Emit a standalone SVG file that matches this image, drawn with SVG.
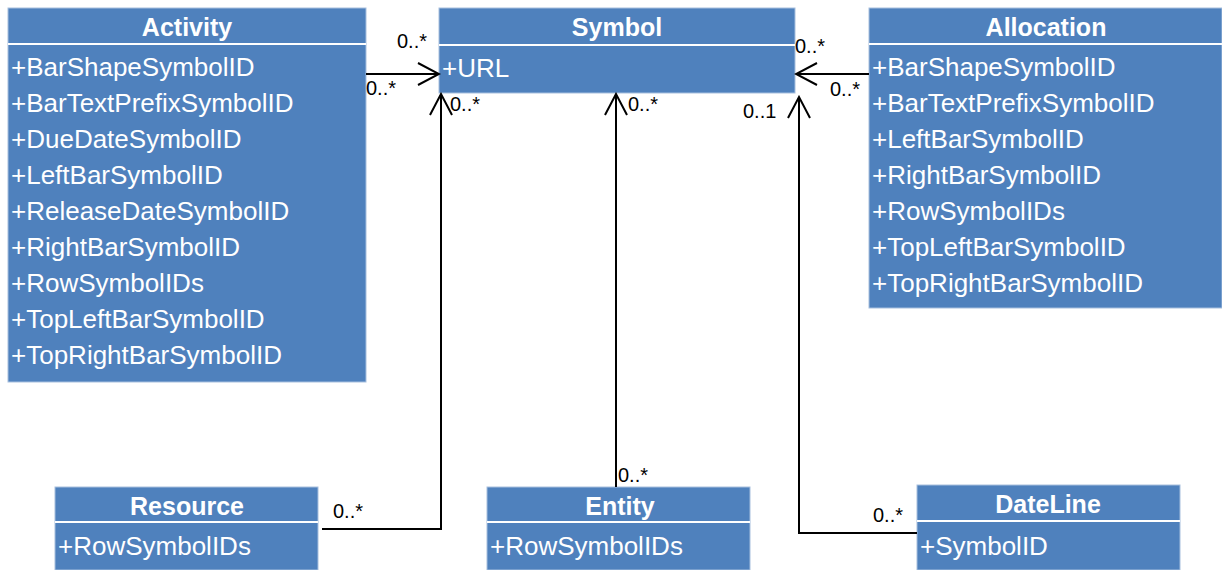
<svg xmlns="http://www.w3.org/2000/svg" width="1222" height="570" viewBox="0 0 1222 570">
<style>
.box{fill:#4F81BD;stroke:#A7BFDE;stroke-width:1}
.div{stroke:#FFFFFF;stroke-width:2}
.hd{font-family:"Liberation Sans",Arial,sans-serif;font-size:25px;font-weight:bold;fill:#FFFFFF;text-anchor:middle}
.at{font-family:"Liberation Sans",Arial,sans-serif;font-size:26px;fill:#FFFFFF}
.lb{font-family:"Liberation Sans",Arial,sans-serif;font-size:20px;fill:#000000}
.cn{fill:none;stroke:#000000;stroke-width:2}
</style>
<defs>
<marker id="open" viewBox="0 0 24 24" refX="22" refY="12" markerWidth="24" markerHeight="24" markerUnits="userSpaceOnUse" orient="auto">
<polyline points="1,1 22,12 1,23" fill="none" stroke="#000000" stroke-width="2"/>
</marker>
</defs>
<rect width="1222" height="570" fill="#FFFFFF"/>
<g id="Activity">
<rect class="box" x="8" y="8" width="358" height="374"/>
<line class="div" x1="8" y1="44" x2="366" y2="44"/>
<text class="hd" x="187" y="36">Activity</text>
<text class="at" x="11" y="76">+BarShapeSymbolID</text>
<text class="at" x="11" y="112">+BarTextPrefixSymbolID</text>
<text class="at" x="11" y="148">+DueDateSymbolID</text>
<text class="at" x="11" y="184">+LeftBarSymbolID</text>
<text class="at" x="11" y="220">+ReleaseDateSymbolID</text>
<text class="at" x="11" y="256">+RightBarSymbolID</text>
<text class="at" x="11" y="292">+RowSymbolIDs</text>
<text class="at" x="11" y="328">+TopLeftBarSymbolID</text>
<text class="at" x="11" y="364">+TopRightBarSymbolID</text>
</g>
<g id="Symbol">
<rect class="box" x="439" y="8" width="356" height="85"/>
<line class="div" x1="439" y1="45" x2="795" y2="45"/>
<text class="hd" x="617" y="36">Symbol</text>
<text class="at" x="442" y="77">+URL</text>
</g>
<g id="Allocation">
<rect class="box" x="869" y="8" width="353" height="300"/>
<line class="div" x1="869" y1="44" x2="1222" y2="44"/>
<text class="hd" x="1046" y="36">Allocation</text>
<text class="at" x="872" y="76">+BarShapeSymbolID</text>
<text class="at" x="872" y="112">+BarTextPrefixSymbolID</text>
<text class="at" x="872" y="148">+LeftBarSymbolID</text>
<text class="at" x="872" y="184">+RightBarSymbolID</text>
<text class="at" x="872" y="220">+RowSymbolIDs</text>
<text class="at" x="872" y="256">+TopLeftBarSymbolID</text>
<text class="at" x="872" y="292">+TopRightBarSymbolID</text>
</g>
<g id="Resource">
<rect class="box" x="55" y="487" width="263" height="83"/>
<line class="div" x1="55" y1="522" x2="318" y2="522"/>
<text class="hd" x="187" y="515">Resource</text>
<text class="at" x="58" y="555">+RowSymbolIDs</text>
</g>
<g id="Entity">
<rect class="box" x="487" y="487" width="263" height="83"/>
<line class="div" x1="487" y1="522" x2="750" y2="522"/>
<text class="hd" x="620" y="515">Entity</text>
<text class="at" x="490" y="555">+RowSymbolIDs</text>
</g>
<g id="DateLine">
<rect class="box" x="917" y="485" width="263" height="85"/>
<line class="div" x1="917" y1="521" x2="1180" y2="521"/>
<text class="hd" x="1048" y="513">DateLine</text>
<text class="at" x="920" y="555">+SymbolID</text>
</g>
<g id="connectors">
<line class="cn" x1="366" y1="74" x2="439" y2="74" marker-end="url(#open)"/>
<line class="cn" x1="869" y1="74" x2="796" y2="74" marker-end="url(#open)"/>
<polyline class="cn" points="322,529 441,529 441,94" marker-end="url(#open)"/>
<line class="cn" x1="616" y1="487" x2="616" y2="94" marker-end="url(#open)"/>
<polyline class="cn" points="917,533 799,533 799,97" marker-end="url(#open)"/>
<text class="lb" x="397" y="48">0..*</text>
<text class="lb" x="366" y="95">0..*</text>
<text class="lb" x="795" y="53">0..*</text>
<text class="lb" x="830" y="96">0..*</text>
<text class="lb" x="450" y="111">0..*</text>
<text class="lb" x="628" y="111">0..*</text>
<text class="lb" x="743" y="118">0..1</text>
<text class="lb" x="333" y="518">0..*</text>
<text class="lb" x="618" y="482">0..*</text>
<text class="lb" x="873" y="522">0..*</text>
</g>
</svg>
